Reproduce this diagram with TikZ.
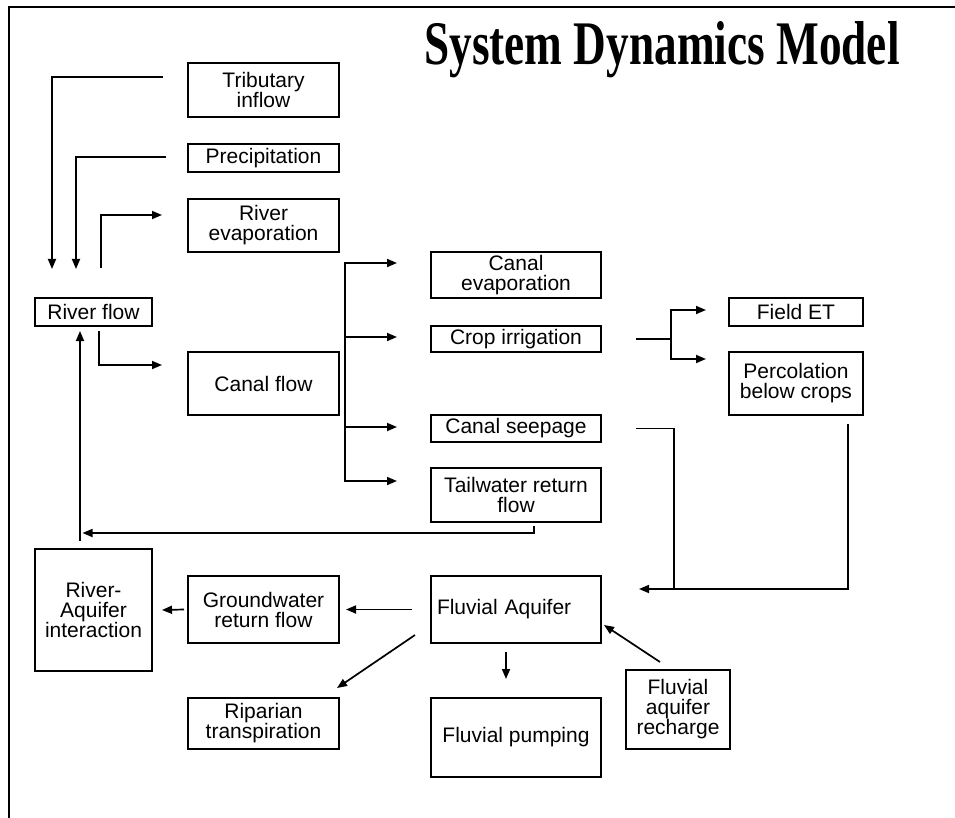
\documentclass[tikz,border=0pt]{standalone}
\usepackage{fontspec}
\usepackage{graphicx}
\usetikzlibrary{arrows.meta}
\newfontfamily\labelfont{Liberation Sans}
\newfontfamily\titlefont{Liberation Serif}

\tikzset{
  box/.style={draw, line width=2pt, inner sep=0pt, align=center,
              font=\labelfont\fontsize{21}{20}\selectfont},
  link/.style={line width=1.7pt},
  flow/.style={link, -{Triangle[length=10pt,width=8pt]}},
}

\begin{document}
\begin{tikzpicture}[x=1pt, y=-1pt]
\useasboundingbox (0,0) rectangle (955,818);

% outer frame (top and left edges)
\draw[line width=2.2pt] (9,818) -- (9,7) -- (955,7);

% title
\node[anchor=base, inner sep=0pt] (title) at (662,65)
  {\titlefont\bfseries\fontsize{62}{62}\selectfont\scalebox{0.73}[1]{System Dynamics Model}};

% river inputs and outputs
\node[box, minimum width=151pt, minimum height=54pt] (trib)   at (263.5,90)    {Tributary\\inflow};
\node[box, minimum width=151pt, minimum height=28pt] (precip) at (263.5,158)   {Precipitation};
\node[box, minimum width=151pt, minimum height=53pt] (revap)  at (263.5,225.5) {River\\evaporation};
\node[box, minimum width=117pt, minimum height=28pt] (river)  at (93.5,312)    {River flow};
\node[box, minimum width=151pt, minimum height=63pt] (canal)  at (263.5,383.5) {Canal flow};

% canal distribution
\node[box, minimum width=170pt, minimum height=46pt] (cevap) at (516,275)   {Canal\\evaporation};
\node[box, minimum width=170pt, minimum height=26pt] (crop)  at (516,339)   {Crop irrigation};
\node[box, minimum width=170pt, minimum height=27pt] (seep)  at (516,428.5) {Canal seepage};
\node[box, minimum width=170pt, minimum height=54pt] (tail)  at (516,495)   {Tailwater return\\flow};

% field
\node[box, minimum width=134pt, minimum height=28pt] (fet)  at (796,312)   {Field ET};
\node[box, minimum width=134pt, minimum height=63pt] (perc) at (796,383.5) {Percolation\\below crops};

% aquifer
\node[box, minimum width=117pt, minimum height=122pt] (rai)  at (93.5,610)   {River-\\Aquifer\\interaction};
\node[box, minimum width=151pt, minimum height=67pt]  (gw)   at (263.5,609.5) {Groundwater\\return flow};
\node[box, align=left, text width=158pt, inner xsep=6pt, minimum height=67pt] (fa) at (516,609.5) {Fluvial Aquifer};
\node[box, minimum width=151pt, minimum height=51pt]  (rip)  at (263.5,723.5) {Riparian\\transpiration};
\node[box, minimum width=170pt, minimum height=79pt]  (pump) at (516,737.5)   {Fluvial pumping};
\node[box, minimum width=104pt, minimum height=79pt]  (rech) at (678,709.5)   {Fluvial\\aquifer\\recharge};

% flows into and out of the river
\draw[flow] ([xshift=-24pt,yshift=13pt]trib.west) -| ([xshift=18pt,yshift=28pt]river.north west);
\draw[flow] ([xshift=-21pt,yshift=1pt]precip.west) -| ([xshift=42pt,yshift=28pt]river.north west);
\draw[flow] ([xshift=67pt,yshift=29pt]river.north west) |- ([xshift=-25pt,yshift=10.5pt]revap.west);
\draw[flow] ([xshift=65pt,yshift=-4pt]river.south west) |- ([xshift=-25pt,yshift=18.5pt]canal.west);

% canal branches
\draw[flow] ([xshift=5pt]canal.east) |- ([xshift=-33pt,yshift=12pt]cevap.west);
\draw[flow] ([xshift=5pt]canal.east) |- ([xshift=-33pt,yshift=2pt]crop.west);
\draw[flow] ([xshift=5pt]canal.east) |- ([xshift=-33pt,yshift=1.5pt]seep.west);
\draw[flow] ([xshift=5pt]canal.east) |- ([xshift=-33pt,yshift=14pt]tail.west);

% crop irrigation split
\coordinate (cj) at ([xshift=69pt]crop.east);
\draw[link] ([xshift=34pt]crop.east) -- (cj);
\draw[flow] (cj) |- ([xshift=-22pt,yshift=2pt]fet.west);
\draw[flow] (cj) |- ([xshift=-22pt,yshift=24.5pt]perc.west);

% seepage and percolation to the aquifer
\coordinate (sj) at ([xshift=72pt,yshift=20.5pt]fa.east);
\draw[flow] ([xshift=34pt]seep.east) -| (sj) -- ([xshift=37pt,yshift=20.5pt]fa.east);
\draw[link] ([xshift=-16pt,yshift=-8pt]perc.south east) |- (sj);

% tailwater back to the river
\draw[flow] ([xshift=18pt,yshift=-3pt]tail.south) |- ([xshift=-11pt,yshift=15pt]rai.north);
\draw[flow] ([xshift=-13.5pt,yshift=7pt]rai.north) -- ([xshift=-13.5pt,yshift=-4pt]river.south);

% aquifer exchanges
\draw[flow] ([xshift=-3pt]gw.west) -- ([xshift=9pt]rai.east);
\draw[flow] ([xshift=-18pt]fa.west) -- ([xshift=6pt]gw.east);
\draw[flow] ([xshift=-15pt,yshift=-25.5pt]fa.west) -- ([xshift=-3pt,yshift=9pt]rip.north east);
\draw[flow] ([xshift=-10pt,yshift=-8pt]fa.south) -- ([xshift=-10pt,yshift=18pt]pump.north);
\draw[flow] ([xshift=-18pt,yshift=7pt]rech.north) -- ([xshift=2pt,yshift=-15.5pt]fa.east);
\end{tikzpicture}
\end{document}
